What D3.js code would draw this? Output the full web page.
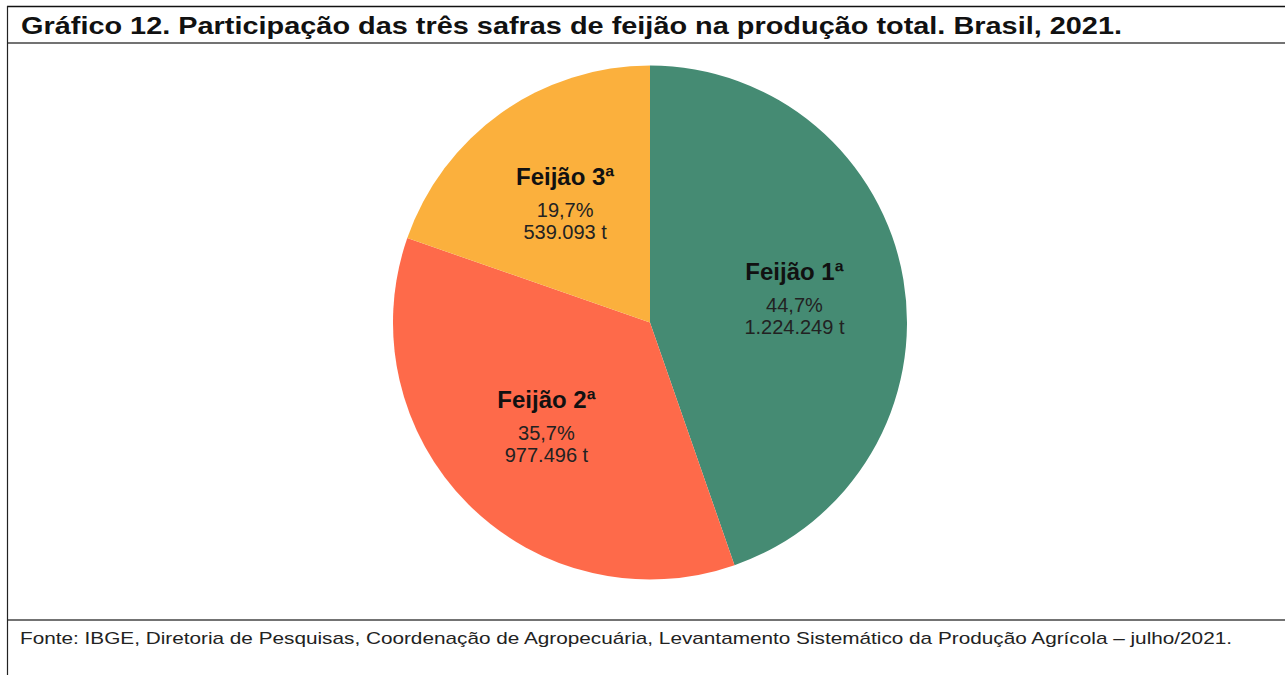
<!DOCTYPE html>
<html>
<head>
<meta charset="utf-8">
<script src="https://cdn.jsdelivr.net/npm/d3@7"></script>
<style>
  body { margin: 0; background: #fff; }
  text { font-family: "Liberation Sans", Arial, sans-serif; }
</style>
</head>
<body>
<script>
// dados do grafico (IBGE, LSPA julho/2021)
var safras = ["Feijão 1ª", "Feijão 2ª", "Feijão 3ª"];
var producao = [1224249, 977496, 539093];
var percentuais = ["44,7%", "35,7%", "19,7%"];
var cores = ["#458b73", "#fe6a4a", "#fbb03d"];

var titulo = "Gráfico 12. Participação das três safras de feijão na produção total. Brasil, 2021.";
var fonte = "Fonte: IBGE, Diretoria de Pesquisas, Coordenação de Agropecuária, Levantamento Sistemático da Produção Agrícola – julho/2021.";

var width = 1285, height = 675;

var svg = d3.select("body").append("svg")
    .attr("width", width)
    .attr("height", height);

// moldura
svg.append("line").attr("x1", 7).attr("x2", width).attr("y1", 6.5).attr("y2", 6.5)
    .attr("stroke", "#111").attr("stroke-width", 1.5);
svg.append("line").attr("x1", 7).attr("x2", width).attr("y1", 43).attr("y2", 43)
    .attr("stroke", "#444").attr("stroke-width", 1.5);
svg.append("line").attr("x1", 7).attr("x2", width).attr("y1", 620).attr("y2", 620)
    .attr("stroke", "#444").attr("stroke-width", 1.5);
svg.append("line").attr("x1", 7.5).attr("x2", 7.5).attr("y1", 6).attr("y2", height)
    .attr("stroke", "#222").attr("stroke-width", 1.2);

svg.append("text")
    .attr("x", 21).attr("y", 34)
    .attr("font-size", 24).attr("font-weight", "bold").attr("fill", "#111")
    .attr("textLength", 1101).attr("lengthAdjust", "spacingAndGlyphs")
    .text(titulo);

svg.append("text")
    .attr("x", 20).attr("y", 644)
    .attr("font-size", 17).attr("fill", "#222")
    .attr("textLength", 1212).attr("lengthAdjust", "spacingAndGlyphs")
    .text(fonte);

// pizza
var cx = 650, cy = 322.5, raio = 257;

var dados = safras.map(function(s, i) {
    return {nome: s, valor: producao[i], pct: percentuais[i], cor: cores[i]};
});

var pie = d3.pie().sort(null).value(function(d) { return d.valor; });
var arc = d3.arc().innerRadius(0).outerRadius(raio);
var arcLabel = d3.arc().innerRadius(raio * 0.57).outerRadius(raio * 0.57);

var g = svg.append("g").attr("transform", "translate(" + cx + "," + cy + ")");

var fatias = g.selectAll(".fatia")
    .data(pie(dados))
    .enter().append("g")
    .attr("class", "fatia");

fatias.append("path")
    .attr("d", arc)
    .attr("fill", function(d) { return d.data.cor; });

var fmt = d3.formatLocale({decimal: ",", thousands: ".", grouping: [3], currency: ["", ""]}).format(",d");

var rotulos = fatias.append("g")
    .attr("transform", function(d) { return "translate(" + arcLabel.centroid(d) + ")"; });

rotulos.append("text")
    .attr("text-anchor", "middle")
    .attr("y", -18)
    .attr("font-size", 24).attr("font-weight", "bold").attr("fill", "#111")
    .text(function(d) { return d.data.nome; });

rotulos.append("text")
    .attr("text-anchor", "middle")
    .attr("y", 14)
    .attr("font-size", 20).attr("fill", "#222")
    .text(function(d) { return d.data.pct; });

rotulos.append("text")
    .attr("text-anchor", "middle")
    .attr("y", 36)
    .attr("font-size", 20).attr("fill", "#222")
    .text(function(d) { return fmt(d.data.valor) + " t"; });
</script>
</body>
</html>
